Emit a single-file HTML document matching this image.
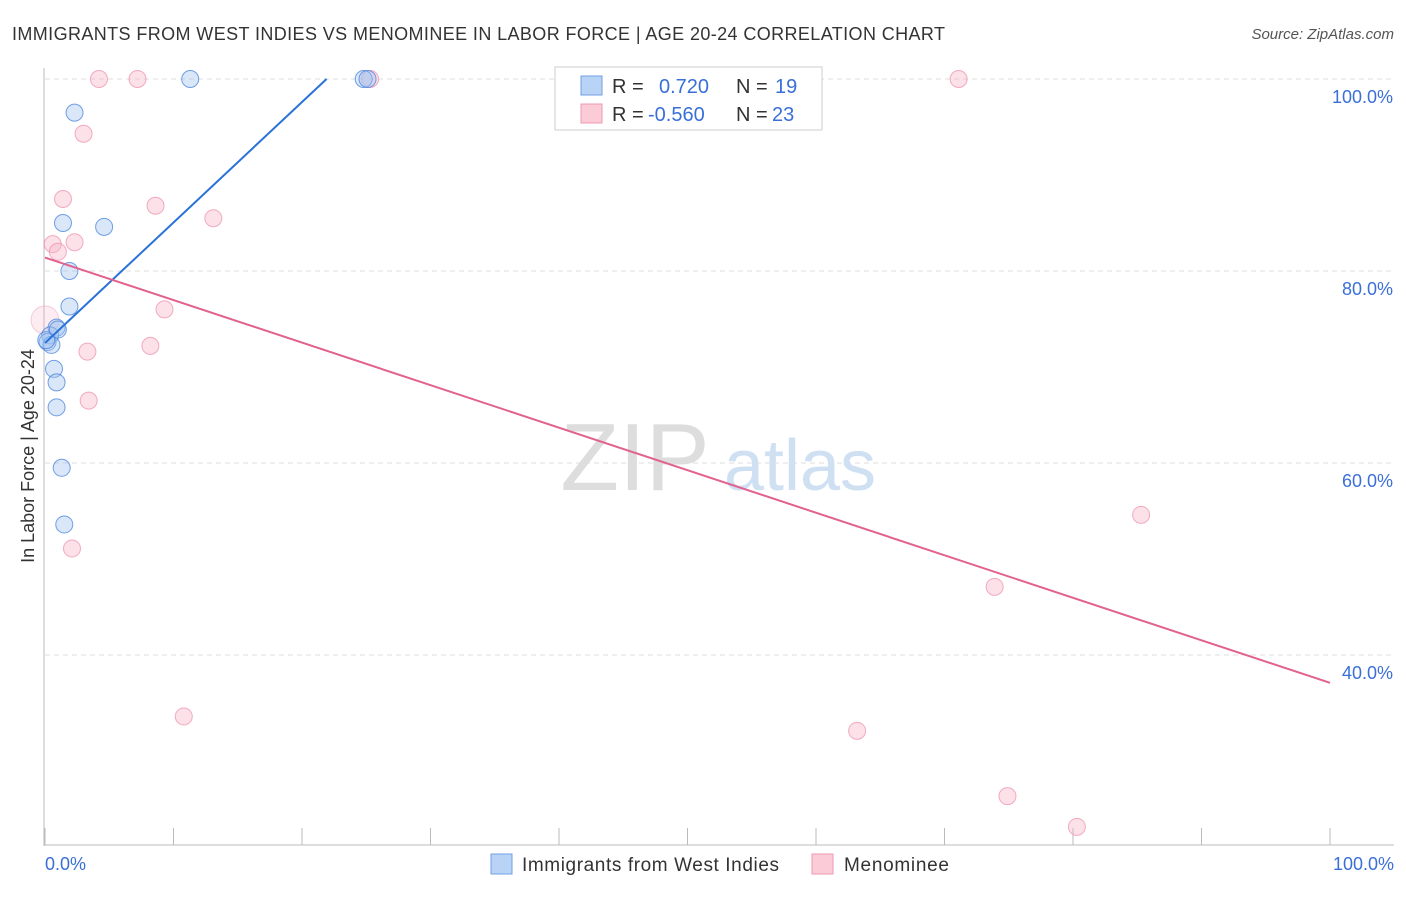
<!DOCTYPE html>
<html><head><meta charset="utf-8"><style>
body{margin:0;background:#fff;font-family:"Liberation Sans",sans-serif;}
svg text{font-family:"Liberation Sans",sans-serif;}
</style></head><body>
<svg width="1406" height="892">
<text x="12" y="40" font-size="18" fill="#333" textLength="933">IMMIGRANTS FROM WEST INDIES VS MENOMINEE IN LABOR FORCE | AGE 20-24 CORRELATION CHART</text>
<text x="1394" y="39" font-size="15" fill="#555" font-style="italic" text-anchor="end">Source: ZipAtlas.com</text>
<g id="grid"></g>
<text x="635" y="490" font-size="96" fill="#ddd" font-family="Liberation Serif" text-anchor="middle">ZIP</text>
<text x="800" y="490" font-size="72" fill="#cfe0f2" text-anchor="middle">atlas</text>
<line x1="44" y1="68" x2="44" y2="846" stroke="#bbb"/>
<line x1="44" y1="845" x2="1394" y2="845" stroke="#bbb"/>
<g id="ticks"></g>
<text x="34" y="456" font-size="18" fill="#333" text-anchor="middle" transform="rotate(-90 34 456)">In Labor Force | Age 20-24</text>
<text x="45" y="870" font-size="18" fill="#3a6fd8">0.0%</text>
<text x="1394" y="870" font-size="18" fill="#3a6fd8" text-anchor="end">100.0%</text>
<g id="pts"></g>
<g id="lines"></g>
<g>
<rect x="555" y="67" width="267" height="63" fill="#fff" stroke="#ccc"/>
<rect x="581" y="76" width="21" height="19" fill="#b8d3f5" stroke="#6f9fe0"/>
<rect x="581" y="104" width="21" height="19" fill="#fbcbd8" stroke="#ec9ab2"/>
<text x="612" y="93" font-size="20" fill="#333">R =</text>
<text x="659" y="93" font-size="20" fill="#3a6fd8">0.720</text>
<text x="736" y="93" font-size="20" fill="#333">N =</text>
<text x="775" y="93" font-size="20" fill="#3a6fd8">19</text>
<text x="612" y="121" font-size="20" fill="#333">R =</text>
<text x="648" y="121" font-size="20" fill="#3a6fd8">-0.560</text>
<text x="736" y="121" font-size="20" fill="#333">N =</text>
<text x="772" y="121" font-size="20" fill="#3a6fd8">23</text>
</g>
<g>
<rect x="491" y="854" width="21" height="20" fill="#b8d3f5" stroke="#6f9fe0"/>
<text x="522" y="871" font-size="19" fill="#333" textLength="257">Immigrants from West Indies</text>
<rect x="812" y="854" width="21" height="20" fill="#fbcbd8" stroke="#ec9ab2"/>
<text x="844" y="871" font-size="19" fill="#333" textLength="105">Menominee</text>
</g>
</svg>
<script>
const yTicks=[100,80,60,40];
const yTickLabels=["100.0%","80.0%","60.0%","40.0%"];
const xTicks=[0,10,20,30,40,50,60,70,80,90,100];
const blueX=[2.3,1.4,4.6,1.9,1.9,0.9,0.4,0.2,0.5,0.7,0.9,0.9,1.3,1.5,11.3,24.8,25.1,0.1,1.0];
const blueY=[96.5,85.0,84.6,80.0,76.3,74.1,73.3,72.6,72.3,69.8,68.4,65.8,59.5,53.6,100,100,100,72.8,73.9];
const pinkX=[4.2,7.2,25.3,71.1,3.0,1.4,8.6,13.1,0.6,1.0,2.3,9.3,8.2,3.3,3.4,2.1,10.8,85.3,73.9,63.2,74.9,80.3,0];
const pinkY=[100,100,100,100,94.3,87.5,86.8,85.5,82.8,82.0,83.0,76.0,72.2,71.6,66.5,51.1,33.6,54.6,47.1,32.1,25.3,22.1,74.9];
const blueTrend=[72.5,1.255]; // intercept, slope
const pinkTrend=[81.4,-0.443];
const NS="http://www.w3.org/2000/svg";
const X=v=>45+v*12.85, Y=v=>79+(100-v)*9.6;
function mk(t,a,p){const e=document.createElementNS(NS,t);for(const k in a)e.setAttribute(k,a[k]);document.getElementById(p).appendChild(e);return e;}
yTicks.forEach((v,i)=>{
 const l=mk('line',{x1:45,x2:1394,y1:Y(v),y2:Y(v),stroke:'#ddd','stroke-dasharray':'5,4'},'grid');
 
 
 const t=mk('text',{x:1393,y:Y(v)+24,'font-size':18,fill:'#3a6fd8','text-anchor':'end'},'grid');
 t.textContent=yTickLabels[i];
 
 
});
xTicks.forEach(v=>{
 const l=mk('line',{x1:X(v),x2:X(v),y1:828,y2:845,stroke:'#bbb'},'ticks');
 
 
});
pinkX.forEach((v,i)=>{
 const big=i===pinkX.length-1;
 const c=mk('circle',{cx:X(v),cy:Y(pinkY[i]),r:big?14:8.5,fill:big?'rgba(248,180,200,0.25)':'rgba(248,180,200,0.4)',stroke:big?'rgba(236,140,170,0.4)':'rgba(236,140,170,0.7)'},'pts');
 
 
});
blueX.forEach((v,i)=>{
 const c=mk('circle',{cx:X(v),cy:Y(blueY[i]),r:8.5,fill:'rgba(160,195,240,0.4)',stroke:'rgba(70,130,220,0.75)'},'pts');
 
 
});
const bx2=(100-blueTrend[0])/blueTrend[1];
const bl=mk('line',{x1:X(0),y1:Y(blueTrend[0]),x2:X(bx2),y2:Y(100),stroke:'#2a72d8','stroke-width':2},'lines');


const pl=mk('line',{x1:X(0),y1:Y(pinkTrend[0]),x2:X(100),y2:Y(pinkTrend[0]+100*pinkTrend[1]),stroke:'#e2628f','stroke-width':2},'lines');


</script>
</body></html>
